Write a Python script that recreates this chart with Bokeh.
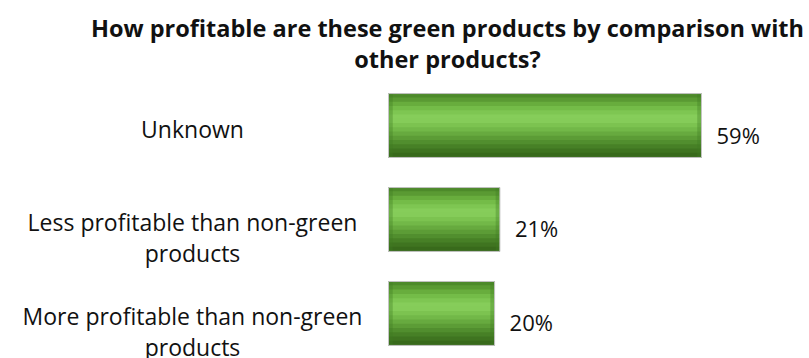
from bokeh.plotting import figure
from bokeh.models import Range1d, Label, ColumnDataSource
from bokeh.core.properties import value
from bokeh.embed import file_html
from bokeh.resources import INLINE

categories = ["Unknown",
              "Less profitable than non-green\nproducts",
              "More profitable than non-green\nproducts"]
values = [59, 21, 20]
value_labels = ["59%", "21%", "20%"]
title_lines = ["How profitable are these green products by comparison with",
               "other products?"]

# styling: vertical gradient of the cylinder-like bars (top -> bottom)
grad = ["#4d8a2a", "#5a9a33", "#68ad3d", "#74bc48", "#7ec652", "#86cd5a",
        "#85cc59", "#7cc350", "#72b848", "#67aa3f", "#5c9c36", "#518e2e",
        "#478026", "#3f7420", "#386a1b"]
bar_h = 0.68

p = figure(width=809, height=358, output_backend="svg", toolbar_location=None,
           x_range=Range1d(-73.14, 79.36), y_range=Range1d(2.479, -1.33),
           min_border=0, min_border_left=0, min_border_right=0,
           min_border_top=0, min_border_bottom=0)
p.axis.visible = False
p.grid.visible = False
p.outline_line_color = None
p.background_fill_color = "white"
p.border_fill_color = "white"

n = len(grad)
ys, rights, cols = [], [], []
for i, v in enumerate(values):
    for k, c in enumerate(grad):
        ys.append(i - bar_h / 2 + (k + 0.5) * bar_h / n)
        rights.append(v)
        cols.append(c)
p.hbar(y=ys, left=0, right=rights, height=bar_h / n * 1.2,
       fill_color=cols, line_color=None)
# darker end caps
p.hbar(y=list(range(len(values))), left=0, right=[0.8] * len(values), height=bar_h,
       fill_color="#3f7a22", fill_alpha=0.35, line_color=None)
p.hbar(y=list(range(len(values))), left=[v - 0.8 for v in values], right=values,
       height=bar_h, fill_color="#3f7a22", fill_alpha=0.35, line_color=None)
p.hbar(y=list(range(len(values))), left=0, right=values, height=bar_h,
       fill_color=None, line_color="#c4c4c4", line_width=1)

src = ColumnDataSource(dict(y=list(range(len(values))), v=values,
                            lab=value_labels, cat=categories,
                            zero=[0] * len(values)))
p.text(x="v", y="y", text="lab", source=src, x_offset=15, y_offset=9,
       text_align="left", text_baseline="middle", text_font=value("Open Sans"),
       text_font_size="22px", text_color="#111111")
p.text(x="zero", y="y", text="cat", source=src, x_offset=-196, y_offset=-13,
       text_align="center", text_baseline="top", text_font=value("Open Sans"),
       text_font_size="23px", text_color="#111111", text_line_height=0.96)

for j, t in enumerate(title_lines):
    p.add_layout(Label(x=447, y=331 - 31 * j, x_units="screen", y_units="screen",
                       text=t, text_align="center", text_baseline="middle",
                       text_font="Open Sans", text_font_style="bold",
                       text_font_size="23.5px", text_color="#111111"))

open("out.html", "w").write(file_html(p, INLINE))
